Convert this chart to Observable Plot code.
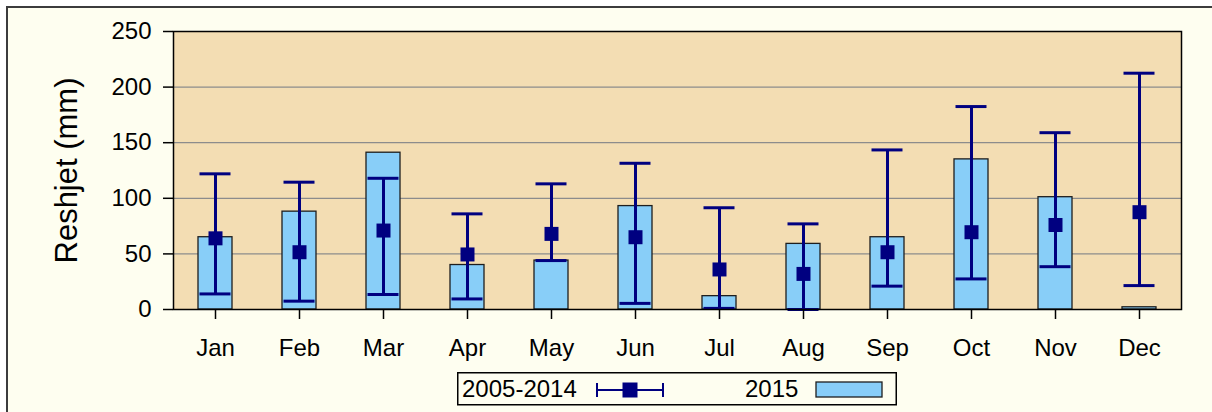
<!DOCTYPE html>
<html>
<head>
<meta charset="utf-8">
<script src="https://cdn.jsdelivr.net/npm/d3@7"></script>
<script src="https://cdn.jsdelivr.net/npm/@observablehq/plot@0.6"></script>
<style>
  html, body { margin: 0; padding: 0; background: #ffffff; }
  #wrap { position: relative; width: 1212px; height: 412px; overflow: hidden; font-family: "Liberation Sans", Arial, sans-serif; }
  #outer { position: absolute; left: 6px; top: 6px; width: 1240px; height: 440px; border: 2px solid #3c3c3c; background: #FEFEF0; box-sizing: border-box; }
  #chart { position: absolute; left: 0; top: 0; }
  #legend { position: absolute; left: 457px; top: 372px; }
</style>
</head>
<body>
<div id="wrap">
  <div id="outer"></div>
  <div id="chart"></div>
  <div id="legend"></div>
</div>
<script>
const months = ["Jan","Feb","Mar","Apr","May","Jun","Jul","Aug","Sep","Oct","Nov","Dec"];
const rain2015 = [65, 88, 141, 40, 44, 93, 12, 59, 65, 135, 101, 2];
const meanRain = [64, 51.5, 71, 49.5, 68, 65, 36, 32, 51.5, 69.5, 76, 87.5];
const maxRain = [122, 114.5, 118, 86, 113, 131.5, 91.5, 77, 143.5, 182.5, 159, 212.5];
const minRain = [14, 7.5, 13.5, 9.5, 44, 5.5, 1, 0, 21, 27.5, 38.5, 21.5];
const yTicks = [0, 50, 100, 150, 200, 250];
const gridValues = [50, 100, 150, 200];
const yLabel = ["Reshjet (mm)"];
const seriesNames = ["2005-2014", "2015"];

const data = months.map((m, i) => ({
  month: m, v2015: rain2015[i], mean: meanRain[i], max: maxRain[i], min: minRain[i]
}));

const navy = "#000080";
const font = "Liberation Sans, Arial, sans-serif";

const chart = Plot.plot({
  width: 1212,
  height: 412,
  marginLeft: 173,
  marginRight: 31,
  marginTop: 31,
  marginBottom: 103,
  style: { background: "transparent", fontFamily: font, color: "black", overflow: "visible" },
  x: { type: "band", domain: months, padding: 0 },
  y: { domain: [0, 250] },
  marks: [
    Plot.frame({ fill: "#F3DDB3", stroke: "none" }),
    Plot.ruleY(gridValues, { stroke: "#8c8c8c", strokeWidth: 1.3 }),
    Plot.barY(data, { x: "month", y: "v2015", fill: "#88CEF8", stroke: "#1e1e1e", strokeWidth: 1.3, insetLeft: 25, insetRight: 25 }),
    Plot.ruleX(data, { x: "month", y1: "min", y2: "max", stroke: navy, strokeWidth: 3 }),
    Plot.tickY(data, { x: "month", y: "max", stroke: navy, strokeWidth: 3, insetLeft: 26.5, insetRight: 26.5 }),
    Plot.tickY(data, { x: "month", y: "min", stroke: navy, strokeWidth: 3, insetLeft: 26.5, insetRight: 26.5 }),
    Plot.dot(data, { x: "month", y: "mean", symbol: "square", r: 7.9, fill: navy, stroke: "none" }),
    Plot.frame({ stroke: "black", strokeWidth: 1.5 }),
    Plot.axisX({ domain: months, tickSize: 10, tickPadding: 19, fontSize: 24, label: null, strokeWidth: 1.5 }),
    Plot.axisY({ ticks: yTicks, tickSize: 10, tickPadding: 12, fontSize: 24, label: null, strokeWidth: 1.5 }),
    Plot.text(yLabel, { text: d => d, frameAnchor: "left", textAnchor: "middle", lineAnchor: "middle", dx: -106, rotate: -90, fontSize: 31, fill: "black" })
  ]
});
document.getElementById("chart").appendChild(chart);

// Legend (below the plot)
const lg = d3.select("#legend").append("svg")
  .attr("width", 441).attr("height", 35)
  .style("font-family", font);
lg.append("rect").attr("x", 0.75).attr("y", 0.75).attr("width", 438.5).attr("height", 32)
  .attr("fill", "#FEFEF0").attr("stroke", "black").attr("stroke-width", 1.5);
lg.append("text").attr("x", 5).attr("y", 25).attr("font-size", 24).text(seriesNames[0]);
lg.append("line").attr("x1", 139).attr("x2", 207).attr("y1", 18).attr("y2", 18).attr("stroke", navy).attr("stroke-width", 2);
lg.append("line").attr("x1", 140).attr("x2", 140).attr("y1", 11).attr("y2", 25).attr("stroke", navy).attr("stroke-width", 2);
lg.append("line").attr("x1", 206).attr("x2", 206).attr("y1", 11).attr("y2", 25).attr("stroke", navy).attr("stroke-width", 2);
lg.append("rect").attr("x", 165.5).attr("y", 10.5).attr("width", 15).attr("height", 15).attr("fill", navy);
lg.append("text").attr("x", 288).attr("y", 25).attr("font-size", 24).text(seriesNames[1]);
lg.append("rect").attr("x", 359).attr("y", 10).attr("width", 66).attr("height", 15)
  .attr("fill", "#88CEF8").attr("stroke", "#1e1e1e").attr("stroke-width", 1.3);
</script>
</body>
</html>
